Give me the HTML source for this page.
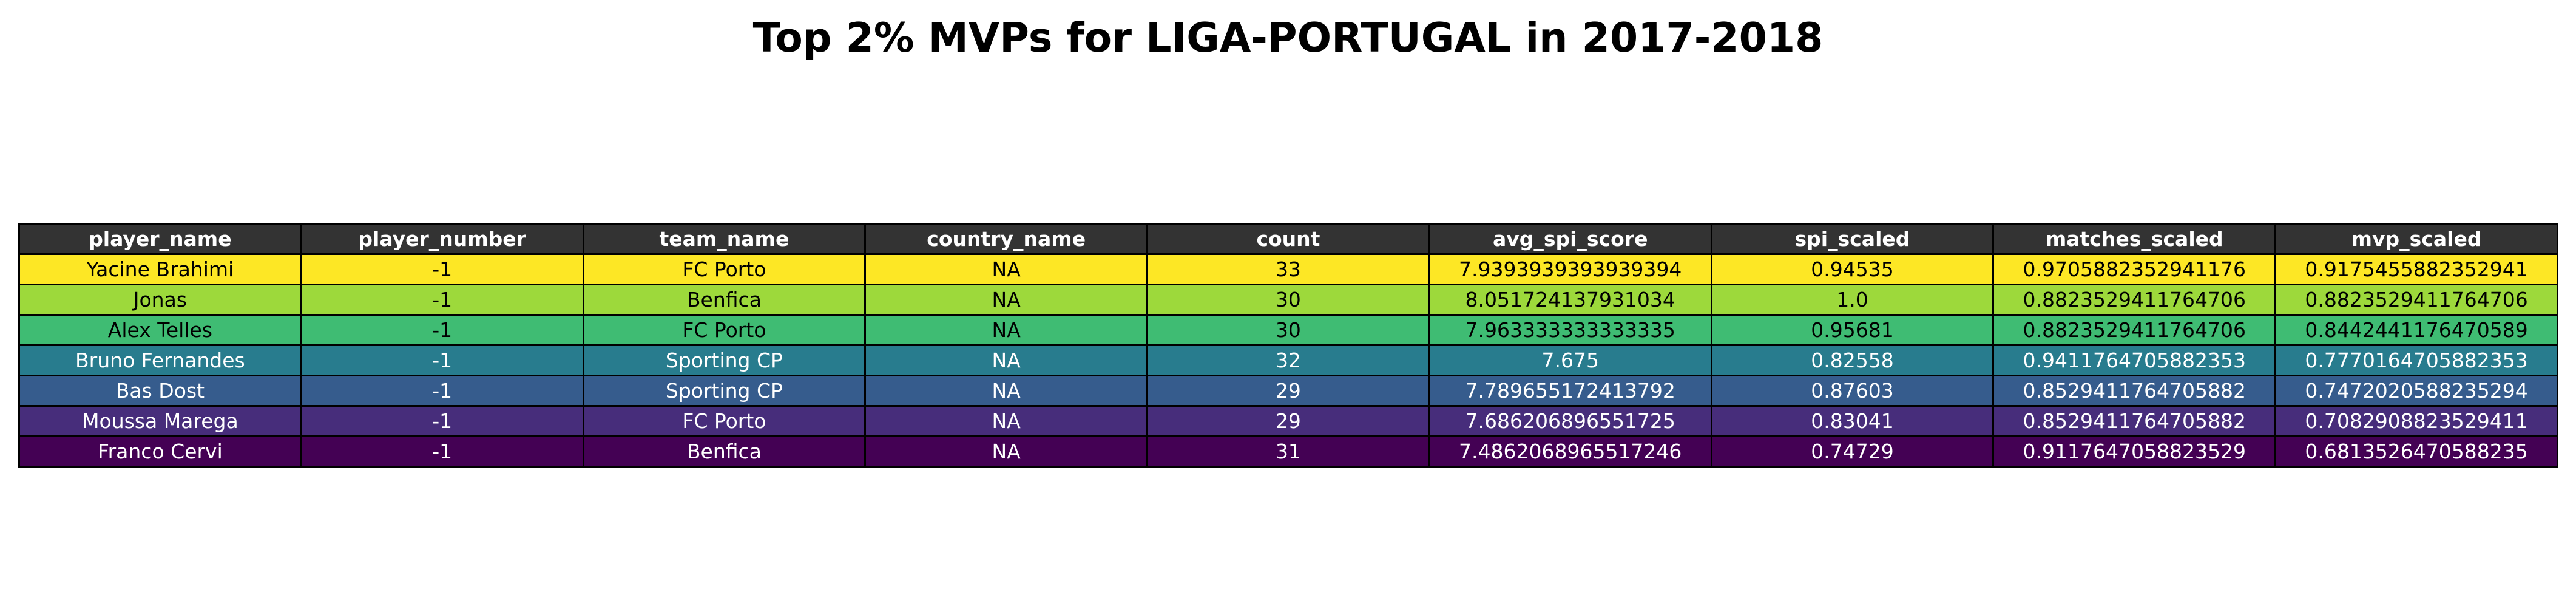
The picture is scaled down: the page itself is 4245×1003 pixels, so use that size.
<!DOCTYPE html>
<html><head><meta charset="utf-8"><style>
body{margin:0;width:4245px;height:1003px;background:#fff;overflow:hidden;font-family:"DejaVu Sans","Liberation Sans",sans-serif;}
#title{position:absolute;left:0;top:23px;width:4245px;text-align:center;font-weight:bold;font-size:66.5px;color:#000;}
table{position:absolute;left:30px;top:367px;width:4186px;border-collapse:collapse;table-layout:fixed;}
td,th{border:3px solid #000;height:47px;padding:0;text-align:center;font-size:33px;line-height:47px;white-space:nowrap;overflow:hidden;}
th{background:#333;color:#fff;font-weight:bold;}
</style></head><body>
<div id="title">Top 2% MVPs for LIGA-PORTUGAL in 2017-2018</div>
<table><thead id="h"></thead><tbody id="b"></tbody></table>
<script>
const columns=["player_name","player_number","team_name","country_name","count","avg_spi_score","spi_scaled","matches_scaled","mvp_scaled"];
const playerNames=["Yacine Brahimi","Jonas","Alex Telles","Bruno Fernandes","Bas Dost","Moussa Marega","Franco Cervi"];
const playerNumbers=["-1","-1","-1","-1","-1","-1","-1"];
const teamNames=["FC Porto","Benfica","FC Porto","Sporting CP","Sporting CP","FC Porto","Benfica"];
const countryNames=["NA","NA","NA","NA","NA","NA","NA"];
const counts=["33","30","30","32","29","29","31"];
const avgSpi=["7.9393939393939394","8.051724137931034","7.963333333333335","7.675","7.789655172413792","7.686206896551725","7.4862068965517246"];
const spiScaled=["0.94535","1.0","0.95681","0.82558","0.87603","0.83041","0.74729"];
const matchesScaled=["0.9705882352941176","0.8823529411764706","0.8823529411764706","0.9411764705882353","0.8529411764705882","0.8529411764705882","0.9117647058823529"];
const mvpScaled=["0.9175455882352941","0.8823529411764706","0.8442441176470589","0.7770164705882353","0.7472020588235294","0.7082908823529411","0.6813526470588235"];
const rowColors=["#fde725","#9dd93b","#3fbc73","#287c8e","#365c8d","#472d7b","#440154"];
const textColors=["#000","#000","#000","#fff","#fff","#fff","#fff"];
const h=document.getElementById('h');const tr=document.createElement('tr');
columns.forEach(c=>{const th=document.createElement('th');


th.textContent=c;tr.appendChild(th);});h.appendChild(tr);
const b=document.getElementById('b');
playerNames.forEach((n,i)=>{const r=document.createElement('tr');


[n,playerNumbers[i],teamNames[i],countryNames[i],counts[i],avgSpi[i],spiScaled[i],matchesScaled[i],mvpScaled[i]].forEach((v,j)=>{
const td=document.createElement('td');


td.textContent=v;td.style.background=rowColors[i];td.style.color=textColors[i];r.appendChild(td);});
b.appendChild(r);});
</script></body></html>
